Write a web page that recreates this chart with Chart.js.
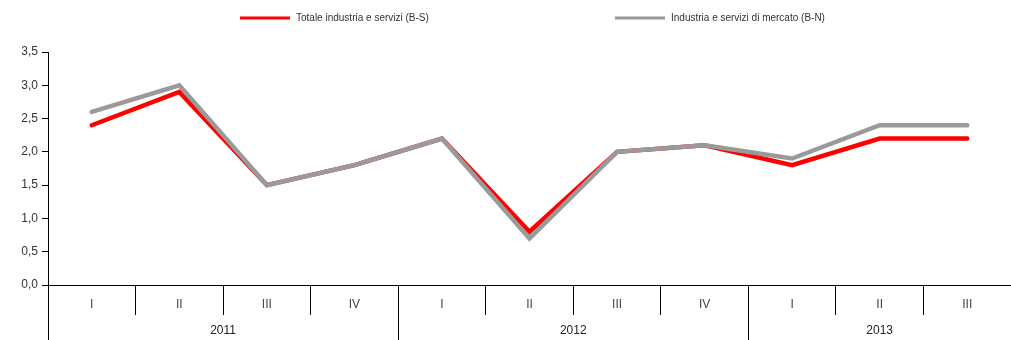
<!DOCTYPE html>
<html>
<head>
<meta charset="utf-8">
<script src="https://cdn.jsdelivr.net/npm/chart.js@4"></script>
<style>
  html, body { margin: 0; padding: 0; background: #fff; }
  #wrap { width: 1011px; height: 340px; }
</style>
</head>
<body>
<div id="wrap"><canvas id="chart" width="1011" height="340"></canvas></div>
<script>
// quarters shown on the axis, years grouped underneath
const quarters = ['I', 'II', 'III', 'IV', 'I', 'II', 'III', 'IV', 'I', 'II', 'III'];
const years = ['2011', '2012', '2013'];

const totaleBS = [2.4, 2.9, 1.5, 1.8, 2.2, 0.8, 2.0, 2.1, 1.8, 2.2, 2.2];
const mercatoBN = [2.6, 3.0, 1.5, 1.8, 2.2, 0.7, 2.0, 2.1, 1.9, 2.4, 2.4];

const yTicks = [0, 0.5, 1, 1.5, 2, 2.5, 3, 3.5];

const FONT = "'Liberation Sans', Arial, sans-serif";

// legend at the top, drawn by hand so the two entries sit where they do in the original
const topLegend = {
  id: 'topLegend',
  afterDraw(chart) {
    const ctx = chart.ctx;
    const starts = [240, 615];
    ctx.save();
    ctx.font = '10px ' + FONT;
    ctx.textBaseline = 'middle';
    chart.data.datasets.forEach((ds, i) => {
      const x = starts[i], y = 18;
      ctx.strokeStyle = ds.borderColor;
      ctx.lineWidth = 3;
      ctx.beginPath();
      ctx.moveTo(x, y);
      ctx.lineTo(x + 50, y);
      ctx.stroke();
      ctx.fillStyle = '#333';
      ctx.fillText(ds.label, x + 56, y);
    });
    ctx.restore();
  }
};

// long separators between years and the year labels below the quarters
const yearAxis = {
  id: 'yearAxis',
  afterDraw(chart) {
    const ctx = chart.ctx;
    const xs = chart.scales.x;
    const top = chart.chartArea.bottom;
    const bottom = chart.height;
    const starts = [];
    quarters.forEach((q, i) => { if (q === 'I') starts.push(i); });
    const edge = (i) => i === 0 ? xs.left : (xs.getPixelForValue(i - 1) + xs.getPixelForValue(i)) / 2;
    ctx.save();
    ctx.strokeStyle = '#000';
    ctx.lineWidth = 1;
    starts.forEach((s) => {
      const x = Math.round(edge(s)) + 0.5;
      ctx.beginPath();
      ctx.moveTo(x, top);
      ctx.lineTo(x, bottom);
      ctx.stroke();
    });
    ctx.font = '12px ' + FONT;
    ctx.fillStyle = '#222';
    ctx.textAlign = 'center';
    ctx.textBaseline = 'middle';
    starts.forEach((s, k) => {
      const e = k + 1 < starts.length ? starts[k + 1] - 1 : quarters.length - 1;
      const cx = (xs.getPixelForValue(s) + xs.getPixelForValue(e)) / 2;
      ctx.fillText(years[k], cx, 331);
    });
    ctx.restore();
  }
};

new Chart(document.getElementById('chart'), {
  type: 'line',
  data: {
    labels: quarters,
    datasets: [
      {
        label: 'Totale industria e servizi (B-S)',
        data: totaleBS,
        borderColor: '#ff0000',
        backgroundColor: '#ff0000',
        borderWidth: 4.5,
        pointRadius: 0,
        tension: 0,
        borderCapStyle: 'round',
        order: 1
      },
      {
        label: 'Industria e servizi di mercato (B-N)',
        data: mercatoBN,
        borderColor: '#9a9a9a',
        backgroundColor: '#9a9a9a',
        borderWidth: 4.5,
        pointRadius: 0,
        tension: 0,
        borderCapStyle: 'round',
        order: 0
      }
    ]
  },
  options: {
    responsive: false,
    animation: false,
    layout: { padding: { top: 52, left: 0, right: 0, bottom: 0 } },
    plugins: {
      legend: { display: false },
      tooltip: { enabled: false }
    },
    scales: {
      x: {
        offset: true,
        grid: { offset: true, drawOnChartArea: false, tickLength: 30, color: '#000', lineWidth: 1 },
        border: { color: '#000', width: 1 },
        ticks: { padding: -18, color: '#444', font: { family: FONT, size: 12 }, maxRotation: 0, autoSkip: false },
        afterFit(s) { s.height = 55; }
      },
      y: {
        min: 0,
        max: 3.5,
        afterBuildTicks(s) { s.ticks = yTicks.map(v => ({ value: v })); },
        grid: { drawOnChartArea: false, tickLength: 6, color: '#000' },
        border: { color: '#000', width: 1 },
        ticks: {
          padding: 4,
          color: '#333',
          font: { family: FONT, size: 12 },
          callback: (v) => v.toFixed(1).replace('.', ',')
        },
        afterFit(s) { s.width = 48; }
      }
    }
  },
  plugins: [topLegend, yearAxis]
});
</script>
</body>
</html>
